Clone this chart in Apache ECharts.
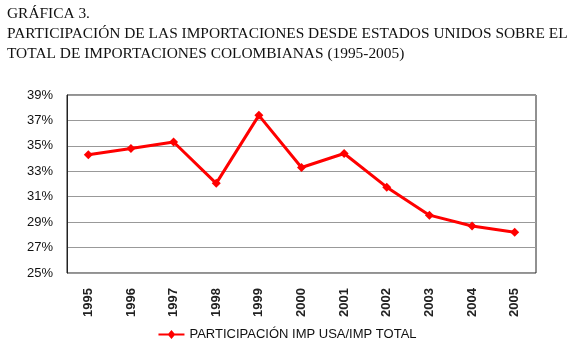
<!DOCTYPE html>
<html>
<head>
<meta charset="utf-8">
<script src="https://cdn.jsdelivr.net/npm/echarts@6/dist/echarts.min.js"></script>
<style>
  html, body { margin: 0; padding: 0; background: #fff; }
  #chart { width: 575px; height: 353px; }
</style>
</head>
<body>
<div id="chart"></div>
<script>
// años
const years = ['1995', '1996', '1997', '1998', '1999', '2000', '2001', '2002', '2003', '2004', '2005']
// participación (%)
const participacion = [34.3, 34.8, 35.3, 32.05, 37.4, 33.3, 34.4, 31.75, 29.55, 28.7, 28.2]
const seriesName = 'PARTICIPACIÓN IMP USA/IMP TOTAL'

let chart = echarts.init(document.getElementById('chart'))
chart.setOption({
  animation: false,
  title: {
    text: 'GRÁFICA 3.\nPARTICIPACIÓN DE LAS IMPORTACIONES DESDE ESTADOS UNIDOS SOBRE EL\nTOTAL DE IMPORTACIONES COLOMBIANAS (1995-2005)',
    left: 7,
    top: 4,
    padding: 0,
    textStyle: {
      fontFamily: 'Liberation Serif',
      fontWeight: 'normal',
      fontSize: 15.4,
      color: '#111',
      lineHeight: 20
    }
  },
  legend: {
    bottom: 7,
    left: 'center',
    itemWidth: 26,
    itemHeight: 9,
    itemGap: 3,
    icon: 'path://M0,3.5L10,3.5L13,0L16,3.5L26,3.5L26,5.5L16,5.5L13,9L10,5.5L0,5.5Z',
    textStyle: {
      fontFamily: 'Liberation Sans',
      fontSize: 13,
      color: '#111'
    },
    data: [seriesName]
  },
  grid: {
    left: 67,
    top: 95,
    right: 39,
    bottom: 80,
    show: true,
    borderColor: '#222',
    borderWidth: 1
  },
  xAxis: {
    type: 'category',
    boundaryGap: true,
    data: years,
    axisLine: { show: false },
    axisTick: { show: false },
    axisLabel: {
      rotate: 90,
      margin: 15,
      fontFamily: 'Liberation Sans',
      fontSize: 13,
      fontWeight: 'bold',
      color: '#222'
    }
  },
  yAxis: {
    type: 'value',
    min: 25,
    max: 39,
    interval: 2,
    axisLine: { show: true, lineStyle: { color: '#222' } },
    axisTick: { show: false },
    axisLabel: {
      formatter: '{value}%',
      margin: 14,
      fontFamily: 'Liberation Sans',
      fontSize: 13,
      color: '#111'
    },
    splitLine: {
      lineStyle: { color: '#999', width: 1 }
    }
  },
  series: [{
    name: seriesName,
    type: 'line',
    data: participacion,
    symbol: 'diamond',
    symbolSize: 9,
    itemStyle: { color: '#ff0000' },
    lineStyle: { color: '#ff0000', width: 3 }
  }]
})
</script>
</body>
</html>
